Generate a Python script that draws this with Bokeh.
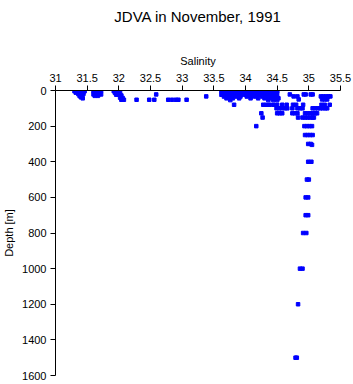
from bokeh.plotting import figure
from bokeh.models import Range1d, LinearAxis, FixedTicker, Title
from bokeh.embed import file_html
from bokeh.resources import INLINE

# Surface cluster near 31.4
sal_a = [31.30, 31.34, 31.38, 31.42, 31.46, 31.32, 31.36, 31.40, 31.44,
         31.36, 31.40, 31.44, 31.38, 31.42, 31.40, 31.43]
dep_a = [4, 4, 4, 4, 4, 12, 12, 12, 12, 20, 20, 20, 30, 30, 38, 44]
# Surface cluster near 31.65
sal_b = [31.60, 31.64, 31.68, 31.72, 31.62, 31.66, 31.70, 31.60, 31.64,
         31.68, 31.72, 31.62, 31.67]
dep_b = [4, 4, 4, 4, 12, 12, 12, 22, 22, 22, 22, 30, 30]
# Surface cluster near 32.0
sal_c = [31.92, 31.96, 32.00, 31.94, 31.98, 32.02, 31.96, 32.00, 32.04,
         32.02, 32.06, 32.04, 32.08]
dep_c = [4, 4, 4, 14, 14, 14, 24, 24, 28, 40, 42, 52, 52]
# Scattered shallow points
sal_d = [32.28, 32.48, 32.56, 32.59, 32.78, 32.84, 32.90, 32.94, 33.07, 33.38]
dep_d = [52, 52, 52, 22, 52, 52, 52, 52, 52, 33]
# Dense block 33.6 - 34.5
sal_e = [33.62, 33.66, 33.70, 33.74, 33.78, 33.82, 33.86, 33.90, 33.94, 33.98,
         34.02, 34.06, 34.10, 34.14, 34.18, 34.22, 34.26, 34.30, 34.34, 34.38,
         34.42, 34.46, 34.50,
         33.64, 33.70, 33.76, 33.80, 33.86, 33.92, 33.96, 34.04, 34.08, 34.14,
         34.20, 34.24, 34.30, 34.36, 34.40, 34.46, 34.50,
         33.62, 33.68, 33.74, 33.82, 33.88, 33.94, 34.00, 34.06, 34.12, 34.18,
         34.22, 34.28, 34.34, 34.42, 34.48,
         33.66, 33.72, 33.78, 33.86, 33.92, 34.02, 34.10, 34.16, 34.26, 34.32,
         34.38, 34.44, 34.50,
         33.70, 33.80, 33.90, 34.08, 34.20, 34.30, 34.40, 34.46, 34.52,
         33.76, 34.36, 34.44, 34.50]
dep_e = [4] * 23 + [14] * 17 + [24] * 15 + [34] * 13 + [44] * 9 + [54] * 4
# Shallow points 34.6 - 35.4
sal_f = [34.70, 34.76, 34.82, 34.84, 34.92, 34.95, 35.03, 35.06, 35.19, 35.23,
         35.27, 35.31, 35.34, 35.21, 35.25, 35.29]
dep_f = [22, 33, 33, 50, 22, 22, 22, 22, 33, 33, 33, 33, 33, 50, 50, 50]
# ~80 m
sal_80 = [33.82, 34.28, 34.33, 34.38, 34.44, 34.50, 34.58, 34.65, 34.75, 34.80,
          34.91, 35.20, 35.25, 35.33]
# ~100 m
sal_100 = [34.49, 34.53, 34.57, 34.62, 34.66, 34.74, 34.82, 34.86, 34.90,
           35.06, 35.10, 35.14, 35.18, 35.22, 35.26, 35.29]
# ~128 m
sal_128 = [34.25, 34.50, 34.54, 34.58, 34.74, 34.78, 34.82, 34.94, 34.98,
           35.02, 35.06, 35.10, 35.13]
# ~152 m
sal_152 = [34.27, 34.83, 34.90, 34.94, 34.98, 35.02, 35.06, 35.08]
# Deeper samples
sal_deep = [34.17, 34.93, 34.97, 35.01, 35.05,
            34.94, 34.98, 35.02, 35.06,
            34.99, 35.03, 35.05,
            34.99, 35.04,
            34.97, 35.00,
            34.95, 34.99,
            34.95, 34.99,
            34.91, 34.96,
            34.86, 34.90,
            34.83,
            34.79, 34.81]
dep_deep = [200, 200, 200, 200, 200,
            250, 250, 250, 250,
            300, 300, 305,
            400, 400,
            500, 500,
            600, 600,
            700, 700,
            800, 800,
            1000, 1000,
            1200,
            1500, 1500]

x_ticks = [31, 31.5, 32, 32.5, 33, 33.5, 34, 34.5, 35, 35.5]
y_ticks = [0, 200, 400, 600, 800, 1000, 1200, 1400, 1600]
title_text = "JDVA in November, 1991"

salinity = (sal_a + sal_b + sal_c + sal_d + sal_e + sal_f + sal_80 + sal_100
            + sal_128 + sal_152 + sal_deep)
depth = (dep_a + dep_b + dep_c + dep_d + dep_e + dep_f + [80] * len(sal_80)
         + [100] * len(sal_100) + [128] * len(sal_128) + [152] * len(sal_152)
         + dep_deep)

FONT = "Liberation Sans"

p = figure(width=353, height=384, output_backend="svg", toolbar_location=None,
           x_range=Range1d(31, 35.5), y_range=Range1d(1600, 0),
           x_axis_location=None, y_axis_location=None,
           min_border_left=54, min_border_right=13, min_border_top=90,
           min_border_bottom=9)
p.outline_line_color = None
p.xgrid.visible = False
p.ygrid.visible = False
p.background_fill_color = "white"
p.border_fill_color = "white"
p.title.text = ""

xa = LinearAxis(axis_label="Salinity", ticker=FixedTicker(ticks=x_ticks))
ya = LinearAxis(axis_label="Depth [m]", ticker=FixedTicker(ticks=y_ticks))
for ax in (xa, ya):
    ax.major_label_text_font = FONT
    ax.major_label_text_font_size = "11px"
    ax.major_label_text_color = "black"
    ax.axis_label_text_font = FONT
    ax.axis_label_text_font_size = "11px"
    ax.axis_label_text_font_style = "normal"
    ax.axis_label_text_color = "black"
    ax.axis_line_color = "black"
    ax.major_tick_line_color = "black"
    ax.major_tick_in = 0
    ax.major_tick_out = 5
    ax.minor_tick_line_color = None
    ax.major_label_standoff = 4
    ax.axis_label_standoff = 4
p.add_layout(xa, "above")
p.add_layout(ya, "left")

# spacer between the top axis and the main title
spacer = Title(text=" ", text_font_size="1px", standoff=24)
p.add_layout(spacer, "above")
main_title = Title(text=title_text, align="center", standoff=0,
                   text_font=FONT, text_font_size="15px",
                   text_font_style="normal", text_color="black")
p.add_layout(main_title, "above")

p.scatter(salinity, depth, marker="square", size=3.5, color="#0000ff",
          line_color="#0000ff")

open("out.html", "w").write(file_html(p, INLINE))
